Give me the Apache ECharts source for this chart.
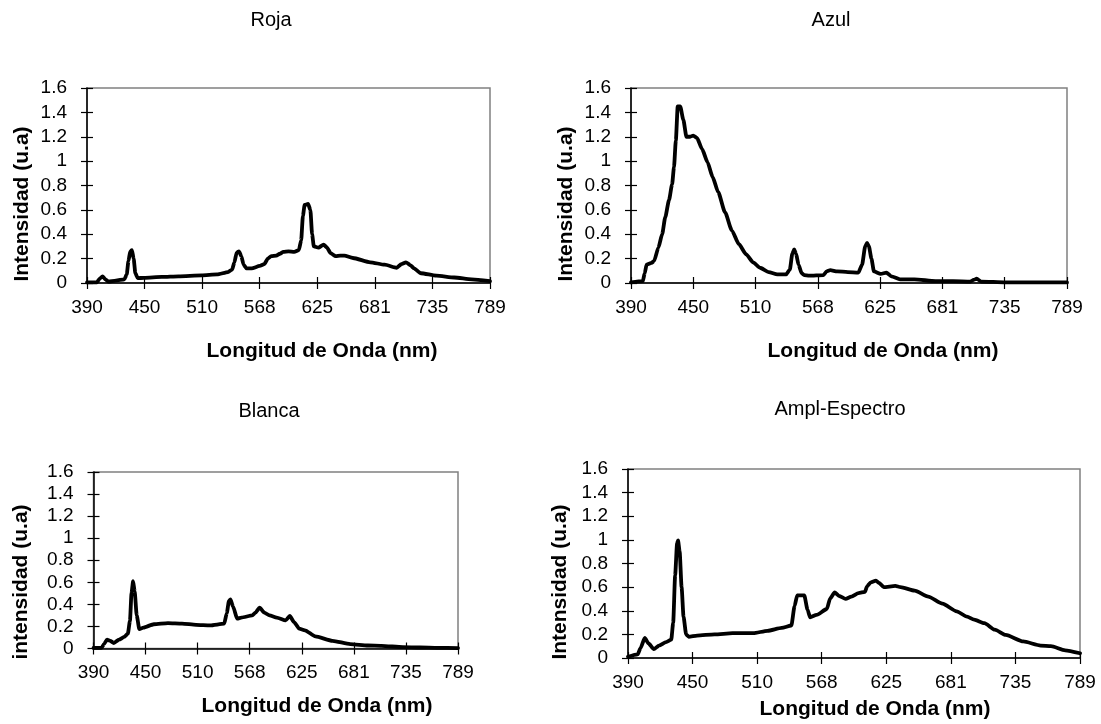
<!DOCTYPE html>
<html>
<head>
<meta charset="utf-8">
<script src="https://cdn.jsdelivr.net/npm/echarts@6/dist/echarts.min.js"></script>
<style>
  html, body { margin: 0; padding: 0; background: #ffffff; }
  #chart { width: 1101px; height: 724px; }
</style>
</head>
<body>
<div id="chart"></div>
<script>
// X tick labels (wavelength, nm) – evenly spaced category-like axis, positions 0..7
const tickLabels = ['390', '450', '510', '568', '625', '681', '735', '789'];

const panelTitles = ['Roja', 'Azul', 'Blanca', 'Ampl-Espectro'];
const yNames = ['Intensidad (u.a)', 'Intensidad (u.a)', 'intensidad (u.a)', 'Intensidad (u.a)'];
const xName = 'Longitud de Onda (nm)';

// [axis position (tick units, 0 = 390 nm, 7 = 789 nm), intensity]
const rojaData = [[0,0.005],[0.17,0.005],[0.22,0.035],[0.27,0.055],[0.32,0.03],[0.37,0.012],[0.5,0.02],[0.65,0.03],[0.69,0.07],[0.72,0.18],[0.75,0.26],[0.78,0.27],[0.81,0.2],[0.84,0.08],[0.88,0.04],[0.99,0.042],[1.3,0.05],[1.59,0.055],[1.99,0.062],[2.26,0.07],[2.45,0.09],[2.52,0.11],[2.56,0.17],[2.6,0.25],[2.64,0.26],[2.68,0.22],[2.72,0.15],[2.77,0.12],[2.86,0.12],[3.0,0.14],[3.08,0.155],[3.14,0.2],[3.2,0.22],[3.29,0.225],[3.35,0.24],[3.41,0.255],[3.5,0.26],[3.6,0.255],[3.68,0.27],[3.72,0.35],[3.75,0.55],[3.78,0.64],[3.84,0.65],[3.88,0.6],[3.91,0.4],[3.94,0.3],[4.02,0.29],[4.11,0.315],[4.17,0.29],[4.23,0.245],[4.32,0.22],[4.4,0.225],[4.47,0.225],[4.62,0.205],[4.92,0.17],[5.17,0.15],[5.38,0.125],[5.46,0.155],[5.54,0.17],[5.62,0.145],[5.68,0.12],[5.8,0.08],[6.07,0.06],[6.38,0.045],[6.68,0.03],[7,0.015]];

const azulData = [[0,0.005],[0.19,0.015],[0.22,0.08],[0.25,0.15],[0.33,0.165],[0.37,0.18],[0.44,0.29],[0.5,0.4],[0.55,0.54],[0.61,0.68],[0.66,0.81],[0.69,0.95],[0.72,1.17],[0.75,1.45],[0.79,1.45],[0.84,1.34],[0.89,1.2],[0.95,1.2],[1.0,1.21],[1.06,1.19],[1.14,1.1],[1.23,0.99],[1.31,0.87],[1.4,0.745],[1.51,0.58],[1.62,0.43],[1.73,0.32],[1.85,0.235],[1.96,0.17],[2.07,0.125],[2.21,0.09],[2.35,0.07],[2.49,0.07],[2.55,0.11],[2.59,0.24],[2.62,0.275],[2.65,0.24],[2.69,0.15],[2.74,0.08],[2.78,0.065],[2.86,0.06],[3.09,0.065],[3.14,0.095],[3.2,0.105],[3.31,0.095],[3.48,0.09],[3.65,0.085],[3.71,0.15],[3.76,0.3],[3.79,0.33],[3.82,0.3],[3.86,0.2],[3.9,0.095],[4.01,0.075],[4.1,0.085],[4.18,0.055],[4.32,0.03],[4.55,0.03],[4.89,0.015],[5.17,0.015],[5.45,0.012],[5.5,0.025],[5.55,0.035],[5.62,0.012],[6.01,0.005],[7,0.005]];

const blancaData = [[0,0.005],[0.155,0.005],[0.2,0.04],[0.26,0.08],[0.32,0.07],[0.39,0.05],[0.49,0.08],[0.59,0.105],[0.66,0.135],[0.7,0.25],[0.73,0.5],[0.76,0.61],[0.79,0.52],[0.83,0.3],[0.88,0.175],[0.96,0.19],[1.16,0.22],[1.43,0.23],[1.7,0.225],[1.97,0.215],[2.24,0.21],[2.51,0.225],[2.56,0.32],[2.6,0.43],[2.63,0.445],[2.68,0.38],[2.76,0.27],[2.84,0.28],[3.05,0.3],[3.11,0.325],[3.19,0.37],[3.28,0.325],[3.38,0.3],[3.52,0.28],[3.69,0.255],[3.77,0.295],[3.85,0.24],[3.95,0.18],[4.06,0.165],[4.26,0.11],[4.59,0.07],[4.93,0.04],[5.27,0.027],[5.53,0.024],[5.94,0.012],[6.27,0.009],[6.61,0.006],[7,0.004]];

const amplData = [[0,0.01],[0.15,0.03],[0.195,0.085],[0.26,0.17],[0.315,0.125],[0.4,0.075],[0.48,0.105],[0.59,0.135],[0.67,0.155],[0.7,0.3],[0.73,0.7],[0.76,0.97],[0.775,0.995],[0.8,0.9],[0.83,0.6],[0.86,0.35],[0.9,0.2],[0.94,0.18],[1.07,0.19],[1.34,0.2],[1.62,0.21],[1.94,0.21],[2.16,0.23],[2.38,0.255],[2.53,0.275],[2.58,0.44],[2.62,0.53],[2.73,0.53],[2.78,0.41],[2.82,0.345],[2.92,0.365],[3.08,0.415],[3.13,0.505],[3.2,0.555],[3.27,0.525],[3.37,0.5],[3.46,0.52],[3.57,0.55],[3.67,0.56],[3.7,0.605],[3.76,0.64],[3.84,0.655],[3.89,0.635],[3.96,0.6],[4.14,0.61],[4.22,0.6],[4.44,0.57],[4.65,0.52],[4.87,0.46],[5.09,0.395],[5.25,0.35],[5.36,0.325],[5.52,0.295],[5.68,0.24],[5.85,0.195],[6.12,0.14],[6.39,0.105],[6.55,0.1],[6.77,0.065],[7,0.04]];

const seriesData = [rojaData, azulData, blancaData, amplData];

// layout (pixels)
const grids = [
  { left: 87,  top: 88,  width: 403, height: 195 },
  { left: 631, top: 88,  width: 436, height: 195 },
  { left: 93.5, top: 472, width: 364.5, height: 176.5 },
  { left: 628, top: 469, width: 452, height: 189 }
];
const titlePos = [[271, 20], [831, 20], [269, 411], [840, 409]];
const yNamePos = [[22, 204], [566, 204], [21, 582], [560, 582]];
const xNamePos = [[322, 351], [883, 351], [317, 706], [875, 709]];

const FONT = '"Liberation Sans", Arial, Helvetica, sans-serif';
const tickFont = { fontFamily: FONT, fontSize: 19, color: '#000' };

const option = { animation: false, backgroundColor: '#fff', grid: [], xAxis: [], yAxis: [], series: [], graphic: [] };

grids.forEach((g, i) => {
  option.grid.push(Object.assign({ show: true, borderColor: '#808080', borderWidth: 1.5, backgroundColor: 'transparent' }, g));
  // main x axis
  option.xAxis.push({
    gridIndex: i, type: 'value', position: 'bottom', min: 0, max: 7, interval: 1,
    axisLine: { show: true, onZero: false, lineStyle: { color: '#000', width: 1.5 } },
    axisTick: { show: true, inside: false, length: 6, lineStyle: { color: '#000', width: 1.2 } },
    axisLabel: Object.assign({ margin: 15, formatter: v => tickLabels[Math.round(v)] }, tickFont),
    splitLine: { show: false }
  });
  // inner ticks for crossing marks
  option.xAxis.push({
    gridIndex: i, type: 'value', position: 'bottom', min: 0, max: 7, interval: 1,
    axisLine: { show: false },
    axisTick: { show: true, inside: true, length: 6, lineStyle: { color: '#000', width: 1.2 } },
    axisLabel: { show: false }, splitLine: { show: false }
  });
  option.yAxis.push({
    gridIndex: i, type: 'value', position: 'left', min: 0, max: 1.6, interval: 0.2,
    axisLine: { show: true, onZero: false, lineStyle: { color: '#000', width: 1.5 } },
    axisTick: { show: true, inside: false, length: 6, lineStyle: { color: '#000', width: 1.2 } },
    axisLabel: Object.assign({ margin: 20, formatter: v => String(Math.round(v * 10) / 10) }, tickFont),
    splitLine: { show: false }
  });
  option.yAxis.push({
    gridIndex: i, type: 'value', position: 'left', min: 0, max: 1.6, interval: 0.2,
    axisLine: { show: false },
    axisTick: { show: true, inside: true, length: 6, lineStyle: { color: '#000', width: 1.2 } },
    axisLabel: { show: false }, splitLine: { show: false }
  });
  option.series.push({
    type: 'line', xAxisIndex: i * 2, yAxisIndex: i * 2,
    data: seriesData[i], showSymbol: false, smooth: 0.2, smoothMonotone: 'x',
    lineStyle: { color: '#000', width: 3.8, join: 'round', cap: 'round' },
    silent: true
  });
  option.graphic.push({
    type: 'text', x: titlePos[i][0], y: titlePos[i][1],
    style: { text: panelTitles[i], align: 'center', verticalAlign: 'middle', font: '20px ' + FONT, fill: '#000' }
  });
  option.graphic.push({
    type: 'text', x: yNamePos[i][0], y: yNamePos[i][1], rotation: Math.PI / 2,
    style: { text: yNames[i], align: 'center', verticalAlign: 'middle', font: 'bold 21px ' + FONT, fill: '#000' }
  });
  option.graphic.push({
    type: 'text', x: xNamePos[i][0], y: xNamePos[i][1],
    style: { text: xName, align: 'center', verticalAlign: 'middle', font: 'bold 21px ' + FONT, fill: '#000' }
  });
});

const chart = echarts.init(document.getElementById('chart'), null, { renderer: 'canvas' });
chart.setOption(option);
</script>
</body>
</html>
